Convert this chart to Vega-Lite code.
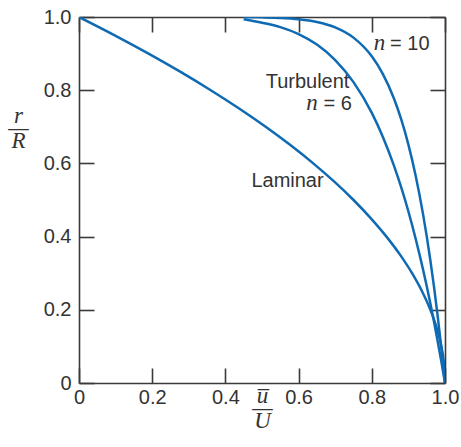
{
  "$schema": "https://vega.github.io/schema/vega-lite/v6.json",
  "width": 366,
  "height": 366,
  "autosize": {"type": "none"},
  "padding": {"left": 79, "top": 17, "right": 16, "bottom": 64},
  "background": "white",
  "config": {
    "view": {"stroke": null},
    "axis": {
      "grid": false,
      "domainColor": "#3a3a3a",
      "domainWidth": 1.6,
      "tickColor": "#3a3a3a",
      "tickWidth": 1.6,
      "labelFont": "Liberation Sans",
      "labelFontSize": 20,
      "labelColor": "#333333",
      "titleColor": "#333333"
    }
  },
  "datasets": {
    "curves": [
      {"profile": "Laminar", "u": 1.0, "r": 0.0},
      {"profile": "Laminar", "u": 0.9994, "r": 0.025},
      {"profile": "Laminar", "u": 0.9975, "r": 0.05},
      {"profile": "Laminar", "u": 0.99, "r": 0.1},
      {"profile": "Laminar", "u": 0.9775, "r": 0.15},
      {"profile": "Laminar", "u": 0.96, "r": 0.2},
      {"profile": "Laminar", "u": 0.9375, "r": 0.25},
      {"profile": "Laminar", "u": 0.91, "r": 0.3},
      {"profile": "Laminar", "u": 0.8775, "r": 0.35},
      {"profile": "Laminar", "u": 0.84, "r": 0.4},
      {"profile": "Laminar", "u": 0.7975, "r": 0.45},
      {"profile": "Laminar", "u": 0.75, "r": 0.5},
      {"profile": "Laminar", "u": 0.6975, "r": 0.55},
      {"profile": "Laminar", "u": 0.64, "r": 0.6},
      {"profile": "Laminar", "u": 0.5775, "r": 0.65},
      {"profile": "Laminar", "u": 0.51, "r": 0.7},
      {"profile": "Laminar", "u": 0.4375, "r": 0.75},
      {"profile": "Laminar", "u": 0.36, "r": 0.8},
      {"profile": "Laminar", "u": 0.2775, "r": 0.85},
      {"profile": "Laminar", "u": 0.19, "r": 0.9},
      {"profile": "Laminar", "u": 0.0975, "r": 0.95},
      {"profile": "Laminar", "u": 0.0, "r": 1.0},
      {"profile": "Turbulent n=6", "u": 0.45, "r": 0.994},
      {"profile": "Turbulent n=6", "u": 0.5, "r": 0.9844},
      {"profile": "Turbulent n=6", "u": 0.55, "r": 0.9723},
      {"profile": "Turbulent n=6", "u": 0.6, "r": 0.9533},
      {"profile": "Turbulent n=6", "u": 0.65, "r": 0.9246},
      {"profile": "Turbulent n=6", "u": 0.7, "r": 0.8824},
      {"profile": "Turbulent n=6", "u": 0.75, "r": 0.822},
      {"profile": "Turbulent n=6", "u": 0.8, "r": 0.7379},
      {"profile": "Turbulent n=6", "u": 0.83, "r": 0.6731},
      {"profile": "Turbulent n=6", "u": 0.86, "r": 0.5954},
      {"profile": "Turbulent n=6", "u": 0.88, "r": 0.5356},
      {"profile": "Turbulent n=6", "u": 0.9, "r": 0.4686},
      {"profile": "Turbulent n=6", "u": 0.92, "r": 0.3936},
      {"profile": "Turbulent n=6", "u": 0.94, "r": 0.3101},
      {"profile": "Turbulent n=6", "u": 0.95, "r": 0.2649},
      {"profile": "Turbulent n=6", "u": 0.96, "r": 0.2172},
      {"profile": "Turbulent n=6", "u": 0.97, "r": 0.167},
      {"profile": "Turbulent n=6", "u": 0.98, "r": 0.1142},
      {"profile": "Turbulent n=6", "u": 0.99, "r": 0.0585},
      {"profile": "Turbulent n=6", "u": 0.995, "r": 0.0296},
      {"profile": "Turbulent n=6", "u": 1.0, "r": 0.0},
      {"profile": "Turbulent n=10", "u": 0.45, "r": 0.9997},
      {"profile": "Turbulent n=10", "u": 0.5, "r": 0.999},
      {"profile": "Turbulent n=10", "u": 0.55, "r": 0.9975},
      {"profile": "Turbulent n=10", "u": 0.6, "r": 0.994},
      {"profile": "Turbulent n=10", "u": 0.65, "r": 0.9865},
      {"profile": "Turbulent n=10", "u": 0.7, "r": 0.9718},
      {"profile": "Turbulent n=10", "u": 0.75, "r": 0.9437},
      {"profile": "Turbulent n=10", "u": 0.8, "r": 0.8926},
      {"profile": "Turbulent n=10", "u": 0.83, "r": 0.8448},
      {"profile": "Turbulent n=10", "u": 0.86, "r": 0.7787},
      {"profile": "Turbulent n=10", "u": 0.88, "r": 0.7215},
      {"profile": "Turbulent n=10", "u": 0.9, "r": 0.6513},
      {"profile": "Turbulent n=10", "u": 0.92, "r": 0.5656},
      {"profile": "Turbulent n=10", "u": 0.94, "r": 0.4614},
      {"profile": "Turbulent n=10", "u": 0.95, "r": 0.4013},
      {"profile": "Turbulent n=10", "u": 0.96, "r": 0.3352},
      {"profile": "Turbulent n=10", "u": 0.97, "r": 0.2626},
      {"profile": "Turbulent n=10", "u": 0.98, "r": 0.1829},
      {"profile": "Turbulent n=10", "u": 0.99, "r": 0.0956},
      {"profile": "Turbulent n=10", "u": 0.995, "r": 0.0489},
      {"profile": "Turbulent n=10", "u": 1.0, "r": 0.0}
    ],
    "labels": [
      {"u": 0.51, "r": 0.806, "text": "Turbulent"},
      {"u": 0.471, "r": 0.536, "text": "Laminar"},
      {"u": 0.85, "r": 0.91, "text": "= 10"},
      {"u": 0.668, "r": 0.746, "text": "= 6"}
    ],
    "italic": [
      {"u": 0.805, "r": 0.91, "text": "n"},
      {"u": 0.621, "r": 0.746, "text": "n"}
    ]
  },
  "layer": [
    {
      "data": {"name": "curves"},
      "mark": {"type": "line", "color": "#0f6ab4", "strokeWidth": 2.5, "interpolate": "monotone", "clip": true},
      "encoding": {
        "x": {
          "field": "u", "type": "quantitative",
          "scale": {"domain": [0, 1], "nice": false, "zero": false},
          "axis": {
            "orient": "bottom",
            "values": [0, 0.2, 0.4, 0.6, 0.8, 1],
            "labelExpr": "datum.value == 0 ? '0' : format(datum.value, '.1f')",
            "tickSize": -15,
            "labelPadding": 19,
            "labelFlush": false,
            "labelOverlap": false,
            "title": ["u\u0305", "\u2014", "U"],
            "titleFont": "Liberation Serif",
            "titleFontStyle": "italic",
            "titleFontWeight": "normal",
            "titleFontSize": 23,
            "titleLineHeight": 12.5,
            "titleBaseline": "top",
            "titleY": 1
          }
        },
        "y": {
          "field": "r", "type": "quantitative",
          "scale": {"domain": [0, 1], "nice": false, "zero": false},
          "axis": {
            "orient": "left",
            "values": [0, 0.2, 0.4, 0.6, 0.8, 1],
            "labelExpr": "datum.value == 0 ? '0' : format(datum.value, '.1f')",
            "tickSize": -15,
            "labelPadding": 23,
            "labelFlush": false,
            "labelOverlap": false,
            "title": ["r", "\u2014", "R"],
            "titleFont": "Liberation Serif",
            "titleFontStyle": "italic",
            "titleFontWeight": "normal",
            "titleFontSize": 23,
            "titleLineHeight": 12.5,
            "titleAngle": 0,
            "titleAlign": "center",
            "titleBaseline": "middle",
            "titleX": -61,
            "titleY": 98
          }
        },
        "detail": {"field": "profile", "type": "nominal"}
      }
    },
    {
      "data": {"name": "labels"},
      "mark": {"type": "text", "align": "left", "baseline": "alphabetic", "font": "Liberation Sans", "fontSize": 20, "color": "#333333"},
      "encoding": {
        "x": {
          "field": "u", "type": "quantitative",
          "axis": {"orient": "top", "values": [0, 0.2, 0.4, 0.6, 0.8, 1], "labels": false, "title": null, "tickSize": -15}
        },
        "y": {
          "field": "r", "type": "quantitative",
          "axis": {"orient": "right", "values": [0, 0.2, 0.4, 0.6, 0.8, 1], "labels": false, "title": null, "tickSize": -15}
        },
        "text": {"field": "text"}
      }
    },
    {
      "data": {"name": "italic"},
      "mark": {"type": "text", "align": "left", "baseline": "alphabetic", "font": "Liberation Serif", "fontStyle": "italic", "fontSize": 23, "color": "#333333"},
      "encoding": {
        "x": {"field": "u", "type": "quantitative", "axis": null},
        "y": {"field": "r", "type": "quantitative", "axis": null},
        "text": {"field": "text"}
      }
    }
  ],
  "resolve": {"axis": {"x": "independent", "y": "independent"}}
}
